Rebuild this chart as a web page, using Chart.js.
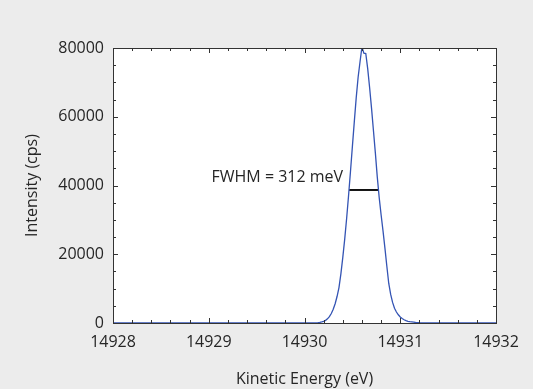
<!DOCTYPE html>
<html>
<head>
<meta charset="utf-8">
<script src="https://cdn.jsdelivr.net/npm/chart.js@4/dist/chart.umd.min.js"></script>
<style>
  html, body { margin: 0; padding: 0; background: #ececec; }
  canvas { display: block; }
</style>
</head>
<body>
<canvas id="c" width="533" height="389"></canvas>
<script>
// Measured spectrum: kinetic energy (eV) and count rate (cps)
const energy = [
  14928.00, 14929.00, 14930.00, 14930.06, 14930.10, 14930.12, 14930.14, 14930.16,
  14930.18, 14930.20, 14930.22, 14930.24, 14930.26, 14930.28, 14930.30, 14930.32,
  14930.34, 14930.36, 14930.38, 14930.40, 14930.42, 14930.44, 14930.46, 14930.48,
  14930.50, 14930.52, 14930.54, 14930.56, 14930.58, 14930.60, 14930.62, 14930.64,
  14930.66, 14930.68, 14930.70, 14930.72, 14930.74, 14930.76, 14930.78, 14930.80,
  14930.82, 14930.84, 14930.86, 14930.88, 14930.90, 14930.92, 14930.94, 14930.96,
  14930.98, 14931.00, 14931.02, 14931.04, 14931.06, 14931.08, 14931.10, 14931.12,
  14931.14, 14931.16, 14931.20, 14931.26, 14931.34, 14931.40, 14932.00
];
const counts = [
  0, 0, 0, 15, 35, 60, 100, 175,
  295, 480, 770, 1200, 1850, 2750, 4000, 5600,
  7700, 10300, 14300, 19100, 24400, 30400, 37000, 44000,
  51300, 58500, 65500, 71500, 76000, 80300, 78500, 78400,
  74000, 68500, 62500, 56000, 49500, 42500, 36500, 31500,
  26800, 21800, 16500, 11500, 8300, 6000, 4300, 3200,
  2400, 1750, 1300, 950, 700, 500, 380, 300,
  230, 170, 100, 40, 10, 0, 0
];

// Full width at half maximum marker
const fwhmEdges = [14930.466, 14930.778];
const halfMax = 38700;
const fwhmMeV = Math.round((fwhmEdges[1] - fwhmEdges[0]) * 1000);
const fwhmLabel = 'FWHM = ' + fwhmMeV + ' meV';

// Axis ticks
const xTicks = [14928, 14929, 14930, 14931, 14932];
const yTicks = [0, 20000, 40000, 60000, 80000];
const xMinorStep = 0.2;
const yMinorStep = 5000;

const axisColor = '#333333';
const textColor = '#262626';

Chart.defaults.font.family = '"Open Sans", "Noto Sans", sans-serif';
Chart.defaults.font.size = 16;
Chart.defaults.color = textColor;

// White plot area, frame and inward tick marks on all four sides
const framePlugin = {
  id: 'frame',
  beforeDraw(chart) {
    const a = chart.chartArea, ctx = chart.ctx;
    ctx.save();
    ctx.fillStyle = '#ffffff';
    ctx.fillRect(a.left, a.top, a.right - a.left, a.bottom - a.top);
    ctx.restore();
  },
  afterDraw(chart) {
    const a = chart.chartArea, ctx = chart.ctx;
    const xs = chart.scales.x, ys = chart.scales.y;
    ctx.save();
    ctx.strokeStyle = axisColor;
    ctx.lineWidth = 1;
    ctx.beginPath();
    const seg = (x1, y1, x2, y2) => { ctx.moveTo(x1, y1); ctx.lineTo(x2, y2); };
    // x ticks (bottom and top)
    const nx = Math.round((xs.max - xs.min) / xMinorStep);
    for (let i = 0; i <= nx; i++) {
      const v = xs.min + i * xMinorStep;
      const px = Math.round(xs.getPixelForValue(v)) + 0.5;
      const major = xTicks.some(t => Math.abs(t - v) < 1e-6);
      const len = major ? 5 : 3;
      seg(px, a.bottom, px, a.bottom - len);
      seg(px, a.top, px, a.top + len);
    }
    // y ticks (left and right)
    const ny = Math.round((ys.max - ys.min) / yMinorStep);
    for (let i = 0; i <= ny; i++) {
      const v = ys.min + i * yMinorStep;
      const py = Math.round(ys.getPixelForValue(v)) + 0.5;
      const major = yTicks.includes(v);
      const len = major ? 5 : 3;
      seg(a.left, py, a.left + len, py);
      seg(a.right, py, a.right - len, py);
    }
    ctx.stroke();
    ctx.strokeRect(Math.round(a.left) + 0.5, Math.round(a.top) + 0.5,
                   Math.round(a.right - a.left), Math.round(a.bottom - a.top));
    // FWHM annotation text
    ctx.fillStyle = textColor;
    ctx.font = '16px "Open Sans", "Noto Sans", sans-serif';
    ctx.textAlign = 'right';
    ctx.textBaseline = 'alphabetic';
    ctx.fillText(fwhmLabel, xs.getPixelForValue(fwhmEdges[0]) - 6, ys.getPixelForValue(halfMax) - 8);
    ctx.restore();
  }
};

new Chart(document.getElementById('c'), {
  type: 'line',
  data: {
    datasets: [
      {
        data: energy.map((e, i) => ({ x: e, y: counts[i] })),
        borderColor: '#3454b4',
        borderWidth: 1.3,
        pointRadius: 0,
        tension: 0
      },
      {
        data: fwhmEdges.map(e => ({ x: e, y: halfMax })),
        borderColor: '#111111',
        borderWidth: 2,
        pointRadius: 0
      }
    ]
  },
  options: {
    responsive: false,
    animation: false,
    devicePixelRatio: 1,
    layout: { padding: { top: 48, right: 37, left: 0, bottom: 0 } },
    plugins: { legend: { display: false }, tooltip: { enabled: false } },
    scales: {
      x: {
        type: 'linear',
        min: 14928,
        max: 14932,
        afterBuildTicks(scale) { scale.ticks = xTicks.map(v => ({ value: v })); },
        afterFit(scale) { scale.height = 66; },
        grid: { display: false, drawTicks: false },
        border: { display: false },
        ticks: { padding: 10, color: textColor, maxRotation: 0, callback: v => String(v) },
        title: { display: true, text: 'Kinetic Energy (eV)', color: textColor, padding: { top: 0, bottom: 0 } }
      },
      y: {
        type: 'linear',
        min: 0,
        max: 80000,
        afterBuildTicks(scale) { scale.ticks = yTicks.map(v => ({ value: v })); },
        afterFit(scale) { scale.width = 113; },
        grid: { display: false, drawTicks: false },
        border: { display: false },
        ticks: { padding: 9, color: textColor, callback: v => String(v) },
        title: { display: true, text: 'Intensity (cps)', color: textColor, padding: { top: 23, bottom: 0 } }
      }
    }
  },
  plugins: [framePlugin]
});
</script>
</body>
</html>
